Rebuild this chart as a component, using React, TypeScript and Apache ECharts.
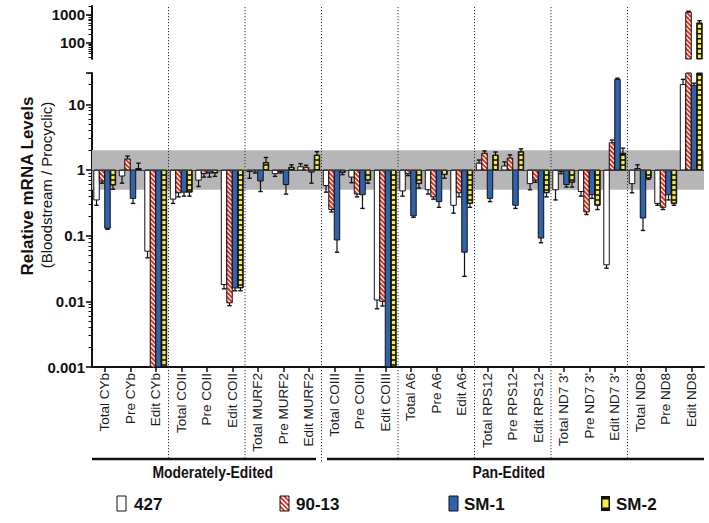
import React, { useEffect, useRef } from "react";
import * as echarts from "echarts";

// ---------------- data ----------------
const categories = [
  "Total CYb", "Pre CYb", "Edit CYb",
  "Total COII", "Pre COII", "Edit COII",
  "Total MURF2", "Pre MURF2", "Edit MURF2",
  "Total COIII", "Pre COIII", "Edit COIII",
  "Total A6", "Pre A6", "Edit A6",
  "Total RPS12", "Pre RPS12", "Edit RPS12",
  "Total ND7 3'", "Pre ND7 3'", "Edit ND7 3'",
  "Total ND8", "Pre ND8", "Edit ND8",
];
const seriesNames = ["427", "90-13", "SM-1", "SM-2"];

// bar values (ratio bloodstream / procyclic)
const v427 = [0.35, 0.81, 0.058, 0.36, 0.7, 0.018, 0.95, 0.88, 1.12, 0.58, 0.78, 0.0105, 0.48, 0.5, 0.29, 1.27, 1.15, 0.62, 0.5, 0.47, 0.036, 0.62, 0.31, 20];
const v9013 = [0.68, 1.47, 0.0005, 0.45, 0.88, 0.0095, 0.97, 0.95, 1.1, 0.25, 0.43, 0.01, 0.88, 0.39, 0.45, 1.8, 1.52, 0.7, 0.95, 0.23, 2.6, 1.05, 0.27, 1200];
const vSM1 = [0.13, 0.37, 0.0005, 0.46, 0.9, 0.016, 0.68, 0.6, 0.93, 0.086, 0.42, 0.0005, 0.2, 0.33, 0.056, 0.37, 0.29, 0.092, 0.6, 0.42, 24, 0.186, 0.42, 19.5];
const vSM2 = [0.59, 1.05, 0.0005, 0.46, 0.9, 0.016, 1.3, 1.1, 1.69, 0.92, 0.7, 0.0005, 0.62, 0.85, 0.31, 1.69, 1.9, 0.45, 0.65, 0.29, 1.8, 0.75, 0.31, 500];

// error bar ends (0 = none)
const e427 = [0.29, 0.63, 0.046, 0.31, 0.56, 0.0155, 0.75, 0.8, 1.25, 0.46, 0.64, 0.0077, 0.4, 0.43, 0.22, 1.42, 1.33, 0.5, 0.35, 0.4, 0.032, 0.45, 0.29, 24];
const e9013 = [0.63, 1.63, 0, 0.39, 0.78, 0.0086, 0.9, 0.9, 1.18, 0.23, 0.39, 0.0085, 0.82, 0.36, 0.39, 1.95, 1.7, 0.65, 0.88, 0.21, 2.85, 1.2, 0.25, 1300];
const eSM1 = [0.125, 0.31, 0, 0.4, 0.78, 0.0145, 0.47, 0.43, 0.63, 0.056, 0.26, 0, 0.19, 0.27, 0.024, 0.33, 0.26, 0.078, 0.55, 0.37, 25, 0.12, 0.35, 21];
const eSM2 = [0.51, 1.27, 0, 0.4, 0.8, 0.0145, 1.55, 1.2, 1.9, 0.85, 0.63, 0, 0.53, 0.75, 0.27, 1.88, 2.1, 0.39, 0.55, 0.25, 2.15, 0.72, 0.29, 600];

const upperRange = [26, 2000];
const lowerRange = [0.001, 30];
const upperLabelTicks = [100, 1000];
const lowerLabelTicks = [0.001, 0.01, 0.1, 1, 10];
const lowerMajorTicks = [0.001, 0.01, 0.1, 1, 10, 30];
const bandRange = [0.5, 2];
const groupLabels = ["Moderately-Edited", "Pan-Edited"];
const groupBreakIndex = 9; // first Pan-Edited category
const geneBoundaries = [3, 6, 9, 12, 15, 18, 21];

// ---------------- styles ----------------
const FONT = '"Liberation Sans", Arial, Helvetica, sans-serif';
const RED = "#dc3a2c";
const BLUE = "#3163ad";
const YEL = "#f4ec48";
const INK = "#111111";
const BAND = "#b6b6b9";

function minorTicks(lo: number, hi: number) {
  const out: number[] = [];
  for (let k = -4; k <= 4; k++) {
    for (let d = 2; d <= 9; d++) {
      const v = Number((d * Math.pow(10, k)).toPrecision(4));
      if (v >= lo * 0.9999 && v <= hi * 1.0001) out.push(v);
    }
  }
  return out;
}

function stripes(x0: number, w: number, ya: number, yb: number, period: number, color: string, lw: number) {
  const out: any[] = [];
  const kStart = Math.floor((ya - w) / period) - 1;
  const kEnd = Math.ceil(yb / period) + 1;
  for (let k = kStart; k <= kEnd; k++) {
    const t = k * period;
    const uMin = Math.max(0, (ya - t) / w);
    const uMax = Math.min(1, (yb - t) / w);
    if (uMax > uMin) {
      out.push({
        type: "line",
        shape: { x1: x0 + uMin * w, y1: t + uMin * w, x2: x0 + uMax * w, y2: t + uMax * w },
        style: { stroke: color, lineWidth: lw },
      });
    }
  }
  return out;
}

function squares(x0: number, w: number, ya: number, yb: number, anchor: number) {
  const out: any[] = [];
  const p = 5, h = 3.4, inset = 1.1;
  const k0 = Math.floor((ya - anchor) / p) - 1;
  const k1 = Math.ceil((yb - anchor) / p) + 1;
  for (let k = k0; k <= k1; k++) {
    let sy = anchor + k * p + 0.8;
    let ey = sy + h;
    sy = Math.max(sy, ya + 0.9);
    ey = Math.min(ey, yb - 0.9);
    if (ey - sy > 0.3) {
      out.push({ type: "rect", shape: { x: x0 + inset, y: sy, width: w - 2 * inset, height: ey - sy }, style: { fill: YEL } });
    }
  }
  return out;
}

function makeRender(s: number) {
  return (params: any, api: any) => {
    const cat = api.value(0);
    const v = api.value(1);
    const e = api.value(2);
    const cs = params.coordSys;
    const top = cs.y;
    const bot = cs.y + cs.height;
    const band = api.size([1, 0])[0];
    const bw = band * 0.215;
    const base = api.coord([cat, 1]);
    const cx = base[0] + (s - 1.5) * bw;
    const x0 = cx - bw / 2;
    const y1 = base[1];
    const yv = api.coord([cat, v])[1];
    const ya = Math.max(Math.min(y1, yv), top);
    const yb = Math.min(Math.max(y1, yv), bot);
    const children: any[] = [];
    if (yb - ya > 0.2) {
      const fill = s === 0 ? "#ffffff" : s === 1 ? RED : s === 2 ? BLUE : INK;
      children.push({ type: "rect", shape: { x: x0, y: ya, width: bw, height: yb - ya }, style: { fill } });
      if (s === 1) children.push(...stripes(x0, bw, ya, yb, 4.6, "#ffffff", 1.2));
      if (s === 3) children.push(...squares(x0, bw, ya, yb, y1));
      children.push({
        type: "rect",
        shape: { x: x0, y: ya, width: bw, height: yb - ya },
        style: { fill: "none", stroke: INK, lineWidth: 1 },
      });
    }
    if (e > 0) {
      const ye = api.coord([cat, e])[1];
      const a = Math.max(Math.min(yv, ye), top);
      const b = Math.min(Math.max(yv, ye), bot);
      if (b - a > 0) {
        children.push({ type: "line", shape: { x1: cx, y1: a, x2: cx, y2: b }, style: { stroke: INK, lineWidth: 1.2 } });
      }
      if (ye >= top && ye <= bot) {
        children.push({ type: "line", shape: { x1: cx - 2.2, y1: ye, x2: cx + 2.2, y2: ye }, style: { stroke: INK, lineWidth: 1.4 } });
      }
    }
    return { type: "group", children };
  };
}

const fmt = (v: number) => String(Number(Number(v).toPrecision(6)));

function yAxes(gridIndex: number, range: number[], labelTicks: number[], majorTicks: number[]) {
  return [
    {
      type: "log",
      gridIndex,
      logBase: 10,
      min: range[0],
      max: range[1],
      position: "left",
      offset: 0,
      axisLine: { show: true, lineStyle: { color: INK, width: 2 } },
      axisTick: { show: true, length: 6, lineStyle: { color: INK, width: 1.6 }, customValues: majorTicks },
      axisLabel: {
        show: true,
        customValues: labelTicks,
        formatter: fmt,
        fontFamily: FONT,
        fontWeight: "bold",
        fontSize: 15,
        color: INK,
        margin: 7,
      },
      splitLine: { show: false },
      minorTick: { show: false },
      minorSplitLine: { show: false },
    },
    {
      type: "log",
      gridIndex,
      logBase: 10,
      min: range[0],
      max: range[1],
      position: "left",
      offset: 0,
      axisLine: { show: false },
      axisTick: { show: true, length: 3.5, lineStyle: { color: INK, width: 1 }, customValues: minorTicks(range[0], range[1]) },
      axisLabel: { show: false },
      splitLine: { show: false },
      minorTick: { show: false },
    },
  ];
}

function buildOption() {
  const vals = [v427, v9013, vSM1, vSM2];
  const errs = [e427, e9013, eSM1, eSM2];
  const series: any[] = [
    {
      type: "line",
      xAxisIndex: 1,
      yAxisIndex: 2,
      data: categories.map(() => 1),
      symbol: "none",
      lineStyle: { opacity: 0 },
      silent: true,
      z: 1,
      markArea: {
        silent: true,
        itemStyle: { color: BAND },
        data: [[{ yAxis: bandRange[0] }, { yAxis: bandRange[1] }]],
      },
      markLine: {
        silent: true,
        symbol: "none",
        label: { show: false },
        lineStyle: { color: "#3a3a3a", width: 1, type: "solid" },
        data: [{ yAxis: 1 }],
      },
    },
  ];
  for (let g = 0; g < 2; g++) {
    for (let s = 0; s < 4; s++) {
      series.push({
        type: "custom",
        name: seriesNames[s],
        xAxisIndex: g,
        yAxisIndex: g === 0 ? 0 : 2,
        renderItem: makeRender(s),
        data: categories.map((_, i) => [i, vals[s][i], errs[s][i]]),
        encode: { x: 0, y: 1 },
        silent: true,
        z: 3,
      });
    }
  }
  return {
    animation: false,
    backgroundColor: "#ffffff",
    textStyle: { fontFamily: FONT },
    grid: [
      { left: 92, right: 5, top: 6, height: 53, outerBoundsMode: "none", containLabel: false },
      { left: 92, right: 5, top: 73, height: 294, outerBoundsMode: "none", containLabel: false },
    ],
    xAxis: [
      { type: "category", gridIndex: 0, data: categories, show: false, boundaryGap: true },
      {
        type: "category",
        gridIndex: 1,
        data: categories,
        boundaryGap: true,
        axisLine: { show: true, lineStyle: { color: INK, width: 2 } },
        axisTick: { show: true, alignWithLabel: true, length: 5, lineStyle: { color: INK, width: 1.5 } },
        axisLabel: { show: true, interval: 0, rotate: 90, fontFamily: FONT, fontSize: 13.5, color: "#1a1a1a", margin: 6 },
        splitLine: { show: false },
      },
    ],
    yAxis: [
      ...yAxes(0, upperRange, upperLabelTicks, upperLabelTicks),
      ...yAxes(1, lowerRange, lowerLabelTicks, lowerMajorTicks),
    ],
    series,
  };
}

function legendIcon(s: number, x: number, y: number, w: number, h: number) {
  const out: any[] = [];
  if (s === 0) {
    out.push({ type: "rect", shape: { x, y, width: w, height: h }, style: { fill: "#fff", stroke: INK, lineWidth: 1 } });
  } else if (s === 1) {
    out.push({ type: "rect", shape: { x, y, width: w, height: h }, style: { fill: RED } });
    out.push(...stripes(x, w, y, y + h, 4.8, "#fff", 1.6));
    out.push({ type: "rect", shape: { x, y, width: w, height: h }, style: { fill: "none", stroke: INK, lineWidth: 1 } });
  } else if (s === 2) {
    out.push({ type: "rect", shape: { x, y, width: w, height: h }, style: { fill: BLUE, stroke: INK, lineWidth: 1 } });
  } else {
    out.push({ type: "rect", shape: { x, y, width: w, height: h }, style: { fill: INK } });
    out.push({ type: "rect", shape: { x: x + 1.5, y: y + 3.5, width: w - 3, height: h - 7 }, style: { fill: YEL } });
  }
  return out;
}

export default function App() {
  const ref = useRef<HTMLDivElement>(null);
  useEffect(() => {
    document.body.style.margin = "0";
    const chart = echarts.init(ref.current!, undefined, { renderer: "svg" });
    chart.setOption(buildOption());

    const px = (i: number) => chart.convertToPixel({ xAxisIndex: 1 }, i) as unknown as number;
    const band = px(1) - px(0);
    const xStart = px(0) - band / 2;
    const xEnd = px(categories.length - 1) + band / 2;
    const topY = chart.convertToPixel({ yAxisIndex: 0 }, upperRange[1]) as unknown as number;
    const sepBottom = 458;
    const bracketY = 459;

    const graphic: any[] = [];
    geneBoundaries.forEach((b) => {
      const x = (px(b - 1) + px(b)) / 2;
      graphic.push({
        type: "line",
        z: 10,
        silent: true,
        shape: { x1: x, y1: topY + 1, x2: x, y2: b === groupBreakIndex ? sepBottom + 5 : sepBottom },
        style: { stroke: "#333", lineWidth: 1, lineDash: [1.2, 1.8] },
      });
    });
    const breakX = (px(groupBreakIndex - 1) + px(groupBreakIndex)) / 2;
    graphic.push({ type: "line", silent: true, shape: { x1: xStart, y1: bracketY, x2: breakX - 5.5, y2: bracketY }, style: { stroke: INK, lineWidth: 2.5 } });
    graphic.push({ type: "line", silent: true, shape: { x1: breakX + 5.5, y1: bracketY, x2: xEnd, y2: bracketY }, style: { stroke: INK, lineWidth: 2.5 } });
    const gx = [(xStart + breakX) / 2 + 6, (breakX + xEnd) / 2 - 4];
    groupLabels.forEach((t, i) => {
      graphic.push({
        type: "text",
        silent: true,
        x: gx[i],
        y: 472,
        scaleX: 0.82,
        style: { text: t, font: `bold 17px ${FONT}`, fill: INK, textAlign: "center", textVerticalAlign: "middle", align: "center", verticalAlign: "middle" },
      });
    });

    // axis title
    graphic.push({
      type: "text",
      silent: true,
      x: 27,
      y: 186,
      rotation: Math.PI / 2,
      style: { text: "Relative mRNA Levels", font: `bold 17px ${FONT}`, fill: INK, textAlign: "center", textVerticalAlign: "middle", align: "center", verticalAlign: "middle" },
    });
    graphic.push({
      type: "text",
      silent: true,
      x: 46,
      y: 185,
      rotation: Math.PI / 2,
      style: { text: "(Bloodstream / Procyclic)", font: `15px ${FONT}`, fill: INK, textAlign: "center", textVerticalAlign: "middle", align: "center", verticalAlign: "middle" },
    });

    // legend
    const boxX = [117, 280, 449, 601];
    const textX = [134, 296, 464, 616];
    seriesNames.forEach((n, s) => {
      graphic.push(...legendIcon(s, boxX[s], 496, 9, 15).map((el) => ({ ...el, silent: true })));
      graphic.push({
        type: "text",
        silent: true,
        x: textX[s],
        y: 504,
        style: { text: n, font: `bold 17px ${FONT}`, fill: INK, textAlign: "left", textVerticalAlign: "middle", align: "left", verticalAlign: "middle" },
      });
    });

    chart.setOption({ graphic });
    return () => chart.dispose();
  }, []);
  return <div ref={ref} style={{ width: 709, height: 523 }} />;
}
